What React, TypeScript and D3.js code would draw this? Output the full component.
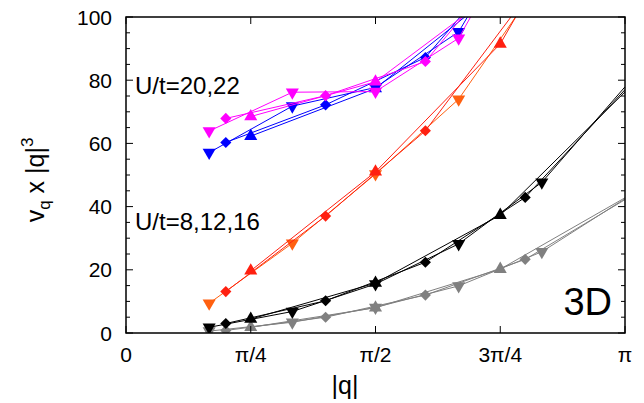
import React from "react";
import * as d3 from "d3";

// q values: n * 2π/L, n = 1..L/2
const sizes = [12, 10, 8];
const markerForSize: Record<number, string> = { 12: "down", 10: "diamond", 8: "up" };

// U/t = 8 (gray)
const u8_L12 = [0.6, 3.4, 8.1, 14.9, 25.7, 42.5];
const u8_L10 = [0.8, 5.0, 12.0, 23.3, 42.2];
const u8_L8 = [1.8, 8.0, 20.2, 42.8];
// U/t = 12 (black)
const u12_L12 = [1.8, 6.8, 15.5, 28.2, 47.7, 77.9];
const u12_L10 = [3.0, 10.2, 22.4, 42.9, 77.0];
const u12_L8 = [4.4, 15.8, 37.3, 76.3];
// U/t = 16 (red)
const u16_L12 = [9.4, 28.4, 50.3, 74.0, 112, 160];
const u16_L10 = [13.1, 37.0, 64.0, 106, 160];
const u16_L8 = [19.7, 51.0, 91.5, 160];
// U/t = 20 (blue)
const u20_L12 = [57.1, 71.8, 77.7, 95.3, 140, 200];
const u20_L10 = [60.3, 72.2, 87.2, 124, 180];
const u20_L8 = [62.3, 77.4, 109, 170];
// U/t = 22 (magenta)
const u22_L12 = [63.9, 76.2, 76.4, 93.3, 140, 200];
const u22_L10 = [67.9, 75.1, 85.9, 124, 180];
const u22_L8 = [68.5, 79.5, 109, 170];

const seriesList = [
  { L: 12, values: u8_L12, color: "#808080" },
  { L: 10, values: u8_L10, color: "#808080" },
  { L: 8, values: u8_L8, color: "#808080" },
  { L: 12, values: u12_L12, color: "#000000" },
  { L: 10, values: u12_L10, color: "#000000" },
  { L: 8, values: u12_L8, color: "#000000" },
  { L: 12, values: u16_L12, color: "#ff6010" },
  { L: 10, values: u16_L10, color: "#ff2010" },
  { L: 8, values: u16_L8, color: "#ff2010" },
  { L: 12, values: u20_L12, color: "#0000ff" },
  { L: 10, values: u20_L10, color: "#0000ff" },
  { L: 8, values: u20_L8, color: "#0000ff" },
  { L: 12, values: u22_L12, color: "#ff00ff" },
  { L: 10, values: u22_L10, color: "#ff00ff" },
  { L: 8, values: u22_L8, color: "#ff00ff" },
];

const xTickValues = [0, Math.PI / 4, Math.PI / 2, (3 * Math.PI) / 4, Math.PI];
const xTickLabels = ["0", "π/4", "π/2", "3π/4", "π"];
const yTickValues = [0, 20, 40, 60, 80, 100];

const W = 644;
const H = 403;
const left = 126, right = 625, top = 17, bottom = 333;

export default function App() {
  const x = d3.scaleLinear().domain([0, Math.PI]).range([left, right]);
  const y = d3.scaleLinear().domain([0, 100]).range([bottom, top]);
  const line = d3.line<[number, number]>().x((d) => x(d[0])).y((d) => y(d[1]));
  const tri = d3.symbol().type(d3.symbolTriangle).size(74)()!;
  const dia = d3.symbol().type(d3.symbolSquare).size(62)()!;
  const minorY = d3.range(0, 101, 5).filter((v) => v % 20 !== 0);
  const font = "'Liberation Sans', Arial, Helvetica, sans-serif";

  return (
    <svg width={W} height={H} style={{ position: "absolute", left: 0, top: 0, background: "#fff" }} fontFamily={font}>
      <defs>
        <clipPath id="plotclip">
          <rect x={left} y={top} width={right - left} height={bottom - top} />
        </clipPath>
      </defs>
      <g clipPath="url(#plotclip)">
        {seriesList.map((s, i) => {
          const pts: [number, number][] = s.values.map((v, k) => [((k + 1) * 2 * Math.PI) / s.L, v]);
          return (
            <g key={i}>
              <path d={line(pts) || ""} fill="none" stroke={s.color} strokeWidth={1} />
              {pts
                .filter((p) => p[0] < Math.PI - 1e-6 && p[1] <= 100)
                .map((p, j) => {
                  const m = markerForSize[s.L];
                  const tr =
                    m === "down"
                      ? `translate(${x(p[0])},${y(p[1])}) rotate(180)`
                      : m === "diamond"
                      ? `translate(${x(p[0])},${y(p[1])}) rotate(45)`
                      : `translate(${x(p[0])},${y(p[1])})`;
                  return <path key={j} d={m === "diamond" ? dia : tri} transform={tr} fill={s.color} />;
                })}
            </g>
          );
        })}
      </g>
      {/* ticks */}
      {xTickValues.map((v, i) => (
        <g key={"xt" + i}>
          <line x1={x(v)} x2={x(v)} y1={bottom} y2={bottom - 7} stroke="#000" />
          <line x1={x(v)} x2={x(v)} y1={top} y2={top + 7} stroke="#000" />
          <text x={x(v)} y={362} fontSize={21} textAnchor="middle">{xTickLabels[i]}</text>
        </g>
      ))}
      {yTickValues.map((v, i) => (
        <g key={"yt" + i}>
          <line x1={left} x2={left + 7} y1={y(v)} y2={y(v)} stroke="#000" />
          <line x1={right} x2={right - 7} y1={y(v)} y2={y(v)} stroke="#000" />
          <text x={112} y={y(v) + 7.5} fontSize={21} textAnchor="end">{v}</text>
        </g>
      ))}
      {minorY.map((v, i) => (
        <g key={"ym" + i}>
          <line x1={left} x2={left + 4} y1={y(v)} y2={y(v)} stroke="#000" />
          <line x1={right} x2={right - 4} y1={y(v)} y2={y(v)} stroke="#000" />
        </g>
      ))}
      <rect x={left} y={top} width={right - left} height={bottom - top} fill="none" stroke="#000" strokeWidth={1.5} />
      <text x={135} y={94} fontSize={24}>U/t=20,22</text>
      <text x={135} y={230} fontSize={24}>U/t=8,12,16</text>
      <text x={612} y={315} fontSize={38} textAnchor="end">3D</text>
      <text x={345} y={394} fontSize={25} textAnchor="middle">|q|</text>
      <text transform="translate(44,180) rotate(-90)" fontSize={25} textAnchor="middle">
        v<tspan fontSize={17} dy={6}>q</tspan>
        <tspan dy={-6}> x |q|</tspan>
        <tspan fontSize={17} dy={-11}>3</tspan>
      </text>
    </svg>
  );
}
